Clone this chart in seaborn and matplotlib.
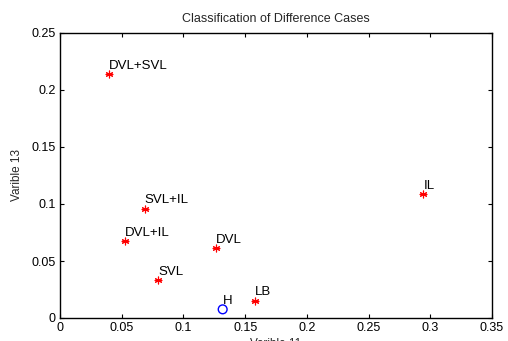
import matplotlib
matplotlib.use("Agg")
import matplotlib.pyplot as plt
import seaborn as sns
import pandas as pd

# Data
labels = ["DVL+SVL", "SVL+IL", "DVL+IL", "DVL", "SVL", "LB", "IL", "H"]
var11 = [0.0400, 0.0686, 0.0524, 0.1264, 0.0794, 0.1580, 0.2943, 0.1318]
var13 = [0.2144, 0.0960, 0.0673, 0.0617, 0.0330, 0.0153, 0.1090, 0.0076]
group = ["case", "case", "case", "case", "case", "case", "case", "healthy"]

xticks = [0, 0.05, 0.1, 0.15, 0.2, 0.25, 0.3, 0.35]
yticks = [0, 0.05, 0.1, 0.15, 0.2, 0.25]
xtick_labels = ["0", "0.05", "0.1", "0.15", "0.2", "0.25", "0.3", "0.35"]
ytick_labels = ["0", "0.05", "0.1", "0.15", "0.2", "0.25"]

df = pd.DataFrame({"label": labels, "x": var11, "y": var13, "group": group})

sns.set_style("ticks")
plt.rcParams["font.family"] = ["Liberation Sans", "DejaVu Sans"]

fig = plt.figure(figsize=(5.08, 3.41), dpi=100)
ax = fig.add_axes([60 / 508, 23 / 341, 432 / 508, 285 / 341])

cases = df[df.group == "case"]
healthy = df[df.group == "healthy"]
sns.scatterplot(data=cases, x="x", y="y", ax=ax, marker=(6, 2, 0), s=22,
                color="#ff0000", linewidth=0.8, edgecolor="#ff0000", zorder=3)
sns.scatterplot(data=cases, x="x", y="y", ax=ax, marker="+", s=40,
                color="#ff0000", linewidth=0.8, zorder=3)
sns.scatterplot(data=healthy, x="x", y="y", ax=ax, marker="o", s=40,
                facecolor="none", edgecolor="#0000ff", linewidth=1.0, zorder=3)

for _, r in df.iterrows():
    ax.annotate(r["label"], (r["x"], r["y"]), xytext=(0, 1.5),
                textcoords="offset points", fontsize=9.5, ha="left", va="bottom",
                color="black")

ax.set_xlim(0, 0.35)
ax.set_ylim(0, 0.25)
ax.set_xticks(xticks)
ax.set_xticklabels(xtick_labels)
ax.set_yticks(yticks)
ax.set_yticklabels(ytick_labels)
ax.tick_params(direction="in", length=3, width=0.8, top=True, right=True,
               labelsize=9, colors="black", pad=3)
for s in ax.spines.values():
    s.set_visible(True)
    s.set_linewidth(1.0)
    s.set_color("black")

ax.set_title("Classification of Difference Cases", fontsize=9, pad=8)
ax.set_xlabel("Varible 11", fontsize=8.5, labelpad=3)
ax.set_ylabel("Varible 13", fontsize=8.5, labelpad=6)

fig.savefig("out.png", dpi=100)
